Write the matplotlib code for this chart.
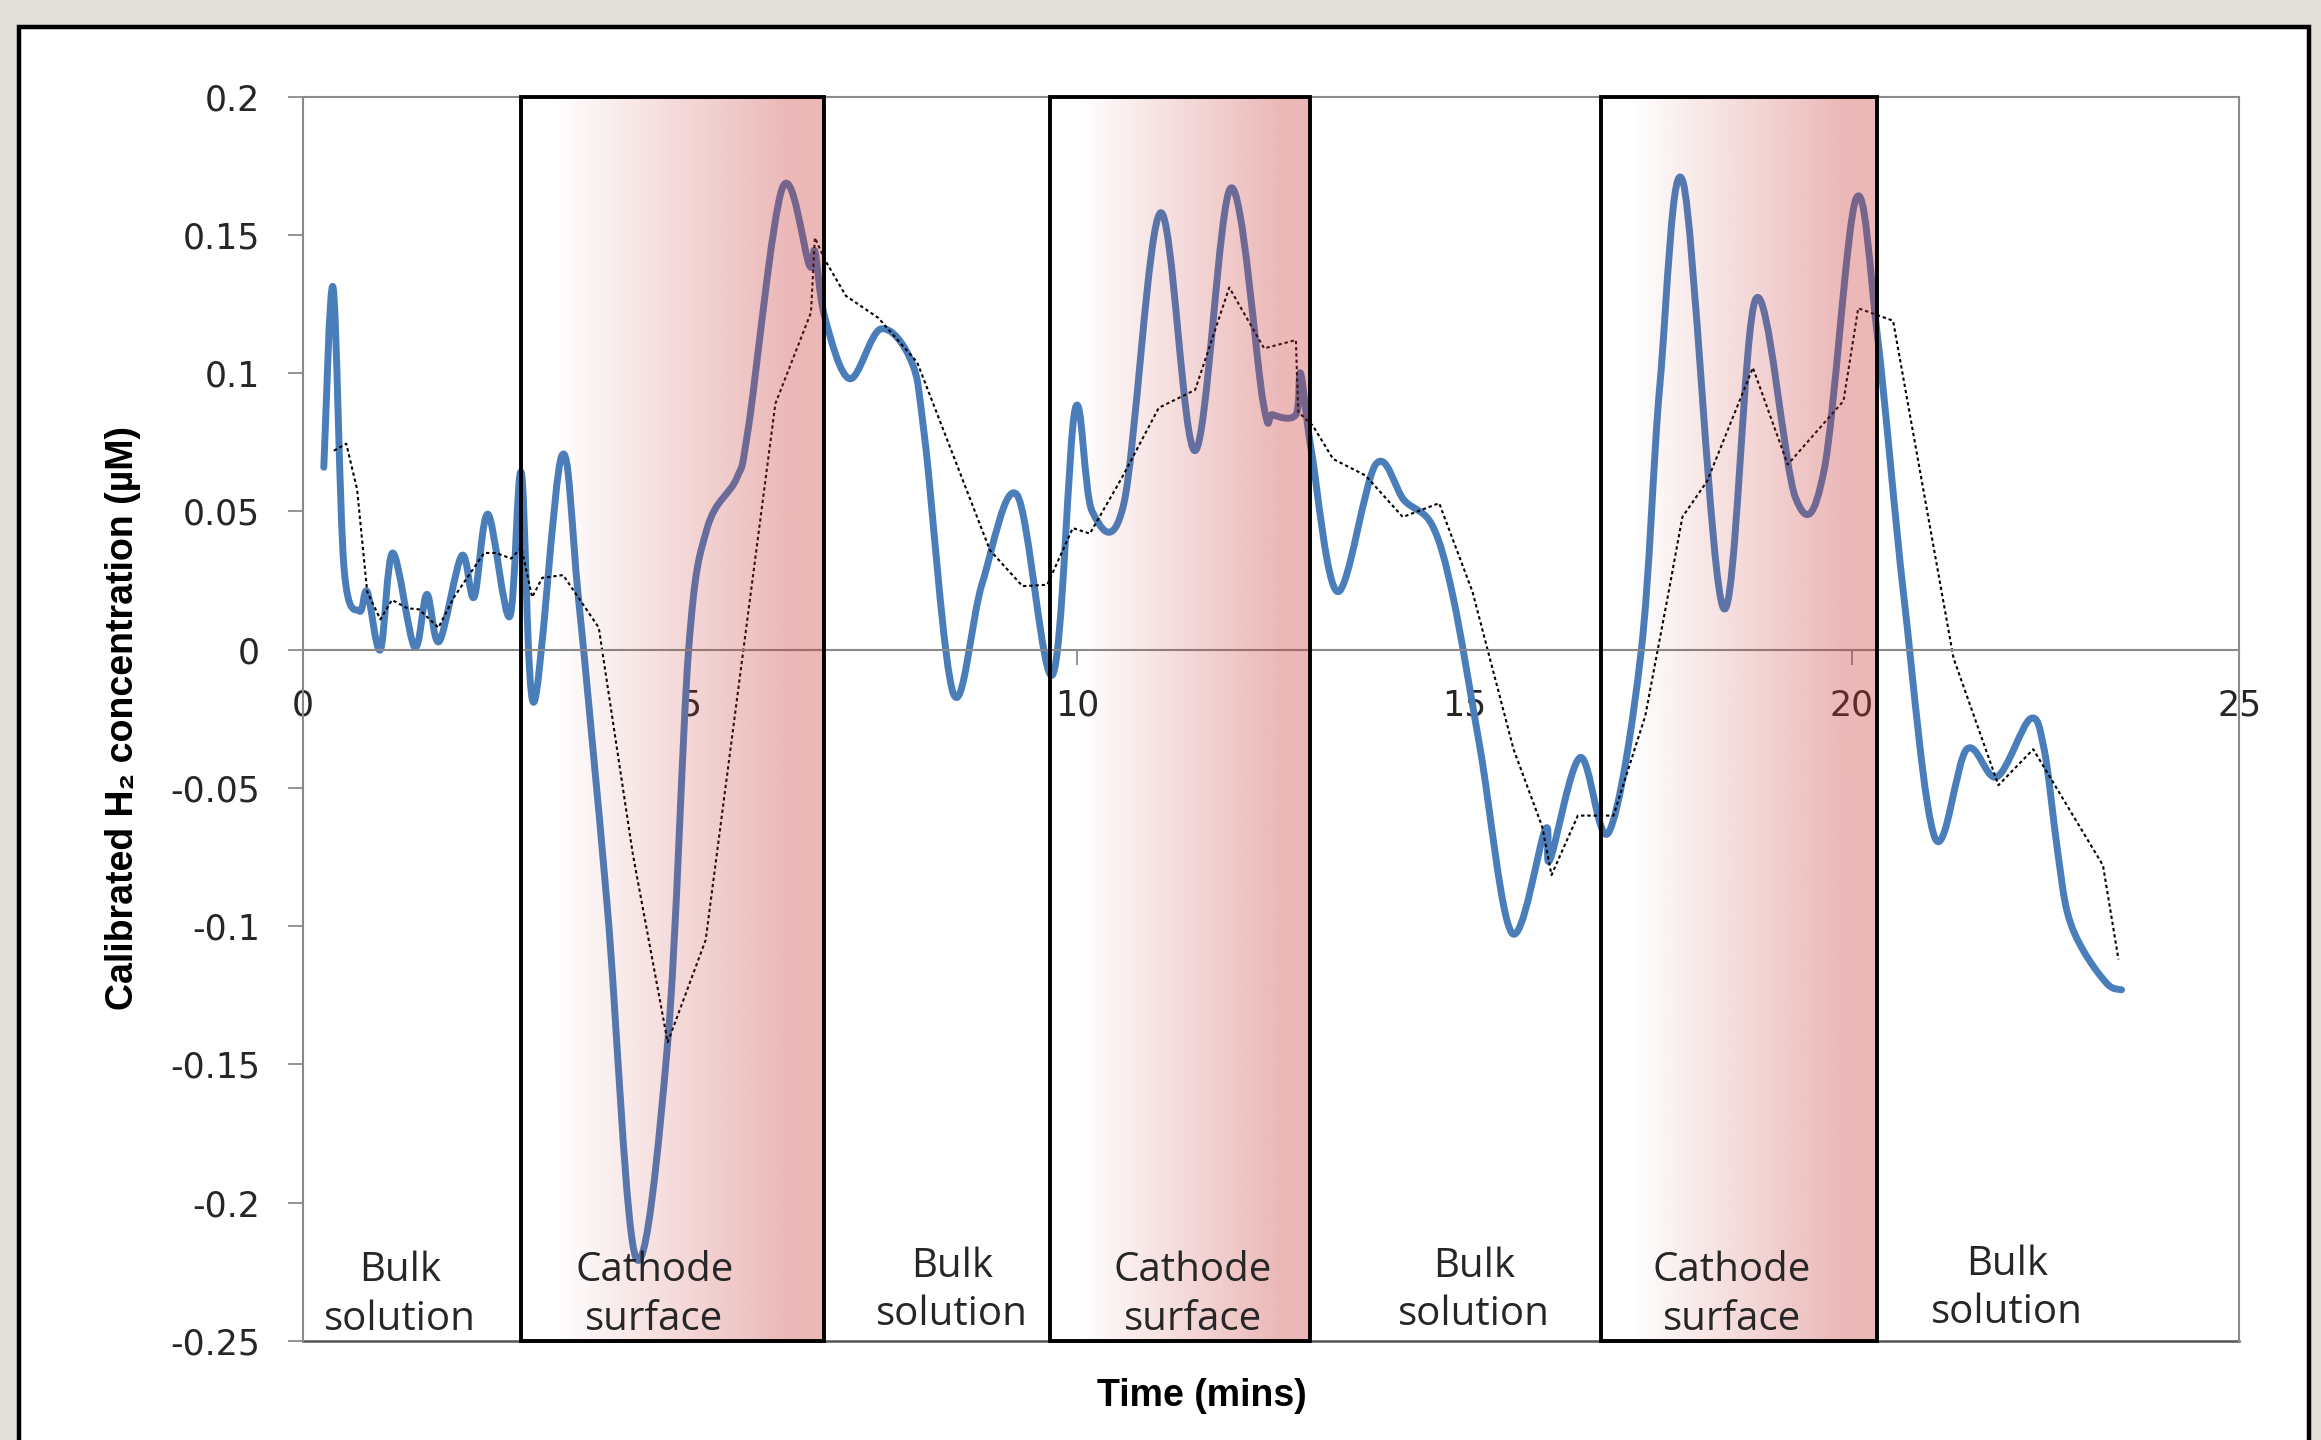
import numpy as np
import matplotlib
matplotlib.use('Agg')
import matplotlib.pyplot as plt
from matplotlib.path import Path
from matplotlib.patches import PathPatch, Rectangle
from matplotlib import font_manager

# measured H2 signal (blue, smoothed line in the original)
blue_t = [0.27, 0.39, 0.53, 0.73, 0.83, 1.00, 1.16, 1.44, 1.60, 1.76, 2.05, 2.21,
          2.39, 2.67, 2.82, 2.98, 3.34, 3.56, 3.93, 4.30, 4.71, 4.98, 5.22, 5.60,
          5.75, 6.19, 6.54, 6.61, 6.74, 7.06, 7.46, 7.86, 8.03, 8.40, 8.77, 9.22,
          9.68, 9.97, 10.19, 10.60, 11.07, 11.52, 11.98, 12.40, 12.52, 12.82, 12.88,
          13.02, 13.36, 13.85, 14.22, 14.58, 14.85, 15.20, 15.61, 16.04, 16.10, 16.49,
          16.86, 17.28, 17.52, 17.82, 18.34, 18.76, 19.27, 19.64, 20.05, 20.33, 20.67,
          21.07, 21.48, 21.87, 22.30, 22.48, 22.65, 22.78, 22.99, 23.30, 23.48]
blue_v = [0.066, 0.131, 0.030, 0.014, 0.021, 0.000, 0.035, 0.001, 0.020, 0.003, 0.034, 0.019,
          0.049, 0.012, 0.064, -0.019, 0.070, 0.018, -0.093, -0.220, -0.142, 0.000, 0.044, 0.062,
          0.080, 0.167, 0.139, 0.144, 0.120, 0.098, 0.116, 0.104, 0.076, -0.016, 0.024, 0.056,
          -0.009, 0.087, 0.050, 0.053, 0.158, 0.072, 0.167, 0.089, 0.085, 0.085, 0.100,
          0.072, 0.021, 0.067, 0.054, 0.045, 0.019, -0.036, -0.1025, -0.065, -0.076, -0.039,
          -0.066, 0.000, 0.096, 0.169, 0.015, 0.127, 0.055, 0.065, 0.163, 0.113, 0.019,
          -0.068, -0.036, -0.046, -0.025, -0.036, -0.072, -0.095, -0.109, -0.121, -0.123]

# moving average (black dotted)
avg_t = [0.40, 0.56, 0.70, 0.83, 1.00, 1.15, 1.35, 1.50, 1.75, 1.95, 2.34, 2.49, 2.69,
         2.82, 2.96, 3.09, 3.36, 3.82, 4.26, 4.71, 5.20, 6.10, 6.56, 6.61, 6.74, 7.01,
         7.43, 7.93, 8.87, 9.29, 9.61, 9.94, 10.16, 10.57, 11.05, 11.52, 11.96, 12.41,
         12.82, 12.85, 13.04, 13.30, 13.72, 14.20, 14.67, 15.10, 15.63, 16.00, 16.12,
         16.46, 16.92, 17.33, 17.62, 17.81, 18.13, 18.72, 19.17, 19.89, 20.08, 20.53,
         21.31, 21.89, 22.34, 23.24, 23.44]
avg_v = [0.072, 0.0745, 0.058, 0.021, 0.011, 0.018, 0.015, 0.0146, 0.008, 0.019, 0.035, 0.035, 0.033,
         0.037, 0.019, 0.026, 0.027, 0.008, -0.074, -0.142, -0.105, 0.089, 0.122, 0.149, 0.141, 0.128,
         0.120, 0.104, 0.036, 0.023, 0.0235, 0.044, 0.042, 0.062, 0.0875, 0.094, 0.131, 0.109,
         0.112, 0.086, 0.081, 0.069, 0.063, 0.048, 0.053, 0.021, -0.036, -0.064, -0.0815,
         -0.060, -0.060, -0.024, 0.019, 0.048, 0.061, 0.102, 0.067, 0.090, 0.1235, 0.119,
         -0.003, -0.049, -0.036, -0.078, -0.112]

cathode_spans = [(2.81, 6.73), (9.64, 13.00), (16.76, 20.32)]
zone_labels = ['Bulk\nsolution', 'Cathode\nsurface', 'Bulk\nsolution', 'Cathode\nsurface',
               'Bulk\nsolution', 'Cathode\nsurface', 'Bulk\nsolution']
zone_x = [1.25, 4.54, 8.38, 11.49, 15.12, 18.45, 22.0]
zone_y = [-0.2335, -0.2335, -0.2318, -0.2335, -0.2318, -0.2335, -0.2312]

x_ticks = [0, 5, 10, 15, 20, 25]
y_ticks = [0.2, 0.15, 0.1, 0.05, 0, -0.05, -0.1, -0.15, -0.2, -0.25]
y_tick_labels = ['0.2', '0.15', '0.1', '0.05', '0', '-0.05', '-0.1', '-0.15', '-0.2', '-0.25']

BLUE = '#4a7ebb'
AXIS_GRAY = '#8a8a8a'
TEXT = '#262626'

installed = {f.name for f in font_manager.fontManager.ttflist}
label_font = ['Liberation Sans Narrow', 'DejaVu Sans'] if 'Liberation Sans Narrow' in installed \
    else ['Liberation Sans', 'DejaVu Sans']


def smooth_path(x, y):
    # Excel style smoothed line: cubic Bezier segments through every point
    pts = np.column_stack([x, y])
    ext = np.vstack([pts[0], pts, pts[-1]])
    verts = [pts[0]]
    codes = [Path.MOVETO]
    for i in range(len(pts) - 1):
        p0, p1, p2, p3 = ext[i], ext[i + 1], ext[i + 2], ext[i + 3]
        verts += [p1 + (p2 - p0) / 6, p2 - (p3 - p1) / 6, p2]
        codes += [Path.CURVE4] * 3
    return Path(verts, codes)


fig = plt.figure(figsize=(23.21, 14.40), dpi=100)
fig.patch.set_facecolor('#e1dfd7')
panel = Rectangle((0.0083, -0.02), 0.9865, 1.0014, transform=fig.transFigure,
                  facecolor='white', edgecolor='black', linewidth=3.2, zorder=-1)
fig.add_artist(panel)

ax = fig.add_axes([0.1305, 0.0688, 0.8343, 0.8640])
ax.set_facecolor('white')

ax.add_patch(PathPatch(smooth_path(blue_t, blue_v), fill=False, edgecolor=BLUE,
                       linewidth=5, capstyle='round', joinstyle='round', zorder=2))
ax.plot(avg_t, avg_v, color='black', linewidth=1.5, linestyle=(0, (1.6, 1.4)), zorder=2.2)

# pink gradient overlays (drawn on top, semi transparent like the original)
n = 400
frac = np.linspace(0, 1, n)
rgba = np.zeros((1, n, 4))
rgba[..., 0] = 200 / 255
rgba[..., 1] = 55 / 255
rgba[..., 2] = 55 / 255
rgba[0, :, 3] = 0.36 * np.clip((frac - 0.11) / 0.78, 0, 1)
for a, b in cathode_spans:
    ax.imshow(rgba, extent=(a, b, -0.25, 0.2), aspect='auto', zorder=3,
              interpolation='bilinear')
    ax.add_patch(Rectangle((a, -0.25), b - a, 0.45, fill=False, edgecolor='black',
                           linewidth=2.8, zorder=4, clip_on=False))

for label, x, y in zip(zone_labels, zone_x, zone_y):
    ax.text(x, y, label, ha='center', va='center', fontsize=29, family='Open Sans',
            color=TEXT, linespacing=1.25, zorder=5)

ax.set_xlim(0, 25)
ax.set_ylim(-0.25, 0.2)
ax.set_xticks(x_ticks)
ax.set_xticklabels([str(t) for t in x_ticks])
ax.set_yticks(y_ticks)
ax.set_yticklabels(y_tick_labels)

ax.spines['bottom'].set_position(('data', 0))
for side in ['left', 'right', 'top', 'bottom']:
    ax.spines[side].set_color(AXIS_GRAY)
    ax.spines[side].set_linewidth(1.5)
ax.plot([0, 1], [0, 0], transform=ax.transAxes, color='#555555', linewidth=1.8,
        clip_on=False, zorder=2.5)

ax.tick_params(axis='both', direction='out', length=11, width=1.3, color=AXIS_GRAY,
               labelsize=25, labelcolor=TEXT)
ax.tick_params(axis='x', pad=17)
ax.tick_params(axis='y', pad=20)

fig.text(0.053, 0.5014, 'Calibrated H\u2082 concentration (\u00b5M)', rotation=90,
         ha='center', va='center', fontsize=27, fontweight='bold', family=label_font,
         color='black')
fig.text(0.518, 0.0306, 'Time (mins)', ha='center', va='center', fontsize=27,
         fontweight='bold', family=label_font, color='black')

fig.savefig('out.png', dpi=100, facecolor=fig.get_facecolor())
